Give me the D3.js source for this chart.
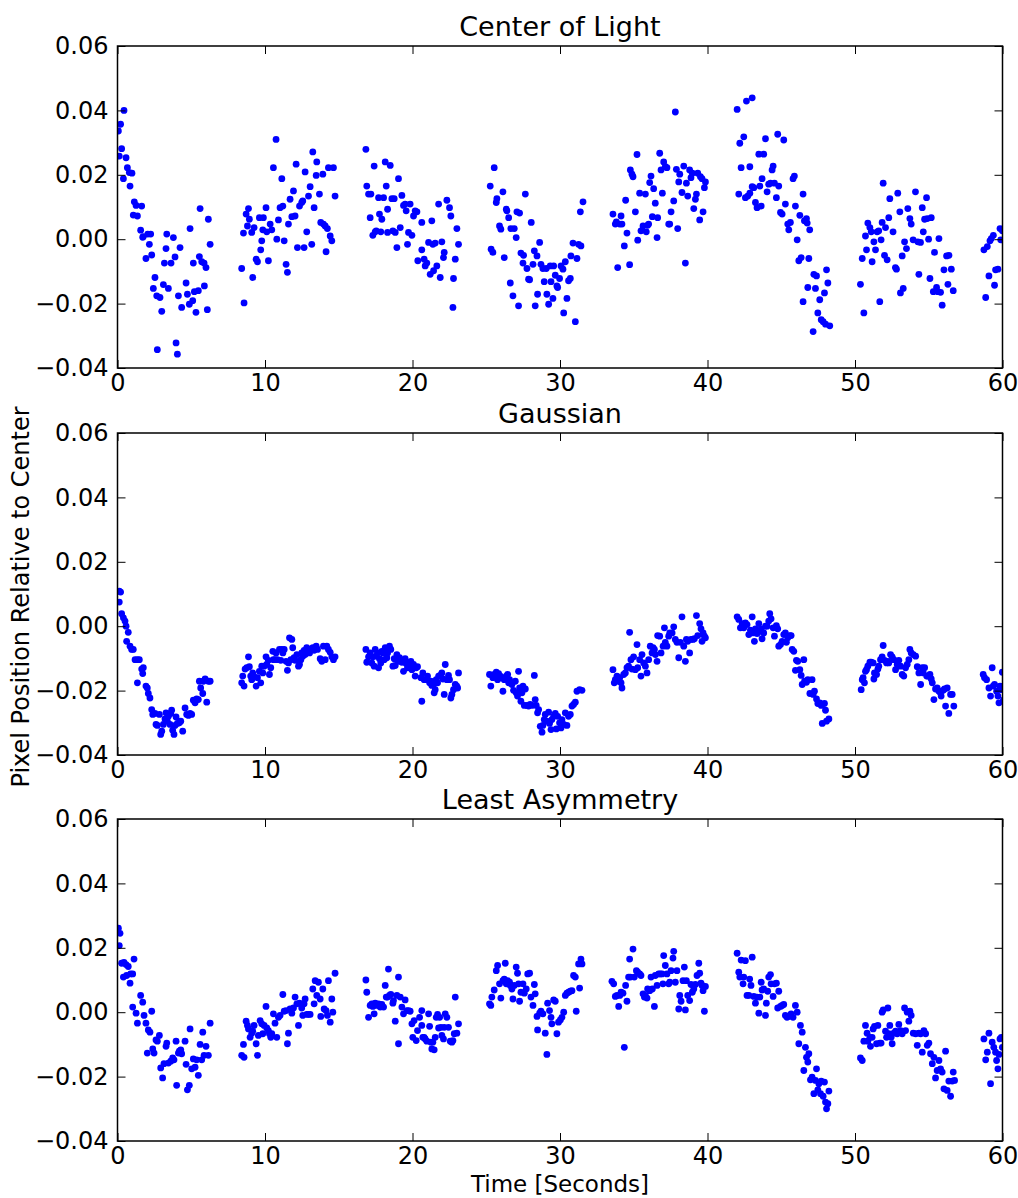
<!DOCTYPE html>
<html><head><meta charset="utf-8">
<script src="https://cdn.jsdelivr.net/npm/d3@7"></script>
<style>body{margin:0;background:#fff}svg{display:block}</style>
</head><body><svg id="chart" width="1018" height="1198"></svg>
<script>
const panelTitles = ["Center of Light", "Gaussian", "Least Asymmetry"];
const xTicks = [0, 10, 20, 30, 40, 50, 60];
const yTicks = [-0.04, -0.02, 0, 0.02, 0.04, 0.06];
const yTickLabels = ["\u22120.04", "\u22120.02", "0.00", "0.02", "0.04", "0.06"];
const xLabel = "Time [Seconds]";
const yLabel = "Pixel Position Relative to Center";

// [time (s), pixel offset]
const centerOfLight = [
[0.06,0.0336],[0.12,0.0258],[0.21,0.0357],[0.28,0.0281],[0.40,0.0188],[0.44,0.0400],[0.58,0.0253],[0.67,0.0222],[0.80,0.0207],[0.85,0.0165],[0.98,0.0205],[1.07,0.0075],[1.14,0.0116],[1.26,0.0105],[1.35,0.0072],[1.57,0.0028],[1.64,0.0103],[1.71,0.0006],[1.75,0.0008],[1.93,-0.0060],[2.05,0.0016],[2.16,-0.0016],[2.25,0.0016],[2.32,-0.0049],[2.43,-0.0153],[2.54,-0.0119],[2.66,-0.0176],[2.70,-0.0343],[2.88,-0.0181],[3.00,-0.0224],[3.11,-0.0141],[3.18,-0.0074],[3.29,-0.0029],[3.34,0.0016],[3.45,-0.0153],[3.63,-0.0074],[3.79,0.0005],[3.90,-0.0055],[3.97,-0.0322],[4.06,-0.0357],[4.13,-0.0176],[4.24,-0.0026],[4.35,-0.0212],[4.65,-0.0136],[4.74,-0.0171],[4.87,-0.0202],[4.92,0.0033],[5.10,-0.0191],[5.14,-0.0074],[5.21,-0.0163],[5.32,-0.0227],[5.48,-0.0160],[5.55,-0.0054],[5.60,0.0095],[5.71,-0.0070],[5.87,-0.0074],[5.89,-0.0145],[6.00,-0.0088],[6.09,-0.0219],[6.16,0.0062],[6.28,-0.0016],
[8.42,-0.0091],[8.54,0.0019],[8.58,-0.0198],[8.72,0.0078],[8.81,0.0041],[8.88,0.0095],[8.94,0.0062],[9.10,0.0021],[9.17,-0.0119],[9.26,0.0036],[9.40,-0.0062],[9.49,-0.0070],[9.62,0.0067],[9.71,-0.0033],[9.78,-0.0005],[9.85,0.0029],[9.89,0.0067],[10.07,0.0098],[10.12,0.0023],[10.23,-0.0067],[10.35,0.0047],[10.46,0.0029],[10.57,0.0222],[10.75,0.0310],[10.80,0.0000],[10.91,0.0060],[11.02,0.0098],[11.14,0.0188],[11.21,0.0103],[11.30,-0.0005],[11.43,-0.0078],[11.52,-0.0103],[11.59,0.0047],[11.70,0.0124],[11.82,0.0070],[11.93,0.0150],[12.04,0.0072],[12.11,0.0233],[12.20,-0.0026],[12.34,0.0103],[12.49,0.0114],[12.56,0.0119],[12.65,-0.0026],[12.72,0.0209],[12.83,0.0023],[12.95,0.0134],[13.06,0.0163],[13.17,-0.0016],[13.24,0.0271],[13.33,0.0098],[13.47,0.0198],[13.51,0.0240],[13.69,0.0140],[13.78,0.0052],[13.92,0.0202],[13.96,0.0047],[14.08,0.0041],[14.14,-0.0039],[14.23,0.0033],[14.30,0.0222],[14.42,0.0010],[14.53,-0.0005],[14.64,0.0222],[14.75,0.0134],
[16.84,0.0279],[16.90,0.0165],[17.02,0.0140],[17.13,0.0067],[17.18,0.0140],[17.31,0.0012],[17.40,0.0227],[17.47,0.0023],[17.54,0.0026],[17.70,0.0129],[17.76,0.0078],[17.85,0.0023],[17.92,0.0062],[18.04,0.0129],[18.15,0.0240],[18.22,0.0165],[18.31,0.0093],[18.31,0.0021],[18.49,0.0229],[18.60,0.0126],[18.67,0.0026],[18.76,0.0126],[18.83,0.0021],[18.94,-0.0026],[19.05,0.0188],[19.17,0.0036],[19.28,0.0136],[19.39,0.0105],[19.50,0.0109],[19.57,0.0088],[19.66,-0.0016],[19.73,0.0021],[19.84,0.0109],[19.96,0.0012],[20.07,0.0072],[20.18,0.0088],[20.30,0.0085],[20.36,-0.0067],[20.63,0.0052],[20.63,-0.0033],[20.79,-0.0062],[20.86,-0.0083],[20.97,-0.0074],[21.09,-0.0010],[21.20,-0.0109],[21.31,0.0057],[21.38,-0.0016],[21.43,-0.0098],[21.54,-0.0012],[21.65,-0.0083],[21.77,0.0109],[21.88,-0.0119],[21.99,-0.0008],[22.10,-0.0057],[22.15,-0.0041],[22.33,0.0121],[22.51,0.0098],[22.60,0.0072],[22.74,-0.0212],[22.78,-0.0122],[22.90,-0.0062],[23.01,0.0033],[23.12,-0.0016],
[25.27,0.0165],[25.33,-0.0031],[25.45,-0.0041],[25.54,0.0222],[25.68,0.0114],[25.72,0.0126],[25.90,0.0041],[25.99,0.0031],[26.13,0.0147],[26.22,-0.0057],[26.36,0.0093],[26.40,0.0088],[26.52,0.0067],[26.63,-0.0136],[26.67,0.0033],[26.81,-0.0176],[26.90,0.0033],[27.03,0.0005],[27.08,0.0085],[27.19,-0.0207],[27.26,0.0081],[27.35,-0.0043],[27.49,-0.0074],[27.53,-0.0050],[27.65,0.0140],[27.76,-0.0091],[27.87,-0.0124],[27.94,-0.0126],[28.05,0.0052],[28.17,-0.0078],[28.26,-0.0036],[28.32,-0.0207],[28.44,-0.0052],[28.48,-0.0171],[28.62,-0.0010],[28.71,-0.0078],[28.84,-0.0091],[28.93,-0.0132],[29.07,-0.0091],[29.11,-0.0171],[29.23,-0.0202],[29.34,-0.0083],[29.39,-0.0132],[29.52,-0.0184],[29.57,-0.0083],[29.68,-0.0112],[29.79,-0.0145],[29.84,-0.0150],[29.97,-0.0122],[30.07,-0.0083],[30.20,-0.0093],[30.25,-0.0229],[30.36,-0.0070],[30.47,-0.0184],[30.58,-0.0129],[30.70,-0.0122],[30.74,-0.0052],[30.88,-0.0012],[31.04,-0.0256],[31.15,-0.0060],[31.26,-0.0016],[31.38,0.0085],[31.42,-0.0021],[31.56,0.0116],
[33.59,0.0078],[33.75,0.0047],[33.82,0.0054],[33.91,-0.0088],[34.05,0.0047],[34.14,0.0072],[34.20,0.0047],[34.36,-0.0021],[34.45,0.0121],[34.54,0.0019],[34.72,-0.0079],[34.77,0.0215],[34.88,0.0202],[34.95,0.0194],[35.11,0.0085],[35.22,0.0263],[35.27,-0.0003],[35.40,0.0143],[35.49,0.0026],[35.63,0.0041],[35.79,0.0140],[35.85,0.0023],[35.94,0.0043],[36.01,0.0047],[36.08,0.0176],[36.17,0.0196],[36.26,0.0070],[36.35,0.0157],[36.46,0.0112],[36.58,0.0005],[36.62,0.0067],[36.76,0.0267],[36.85,0.0215],[36.94,0.0143],[37.03,0.0240],[37.14,0.0225],[37.25,0.0222],[37.37,0.0047],[37.44,0.0047],[37.53,0.0085],[37.71,0.0119],[37.82,0.0395],[37.89,0.0217],[37.98,0.0033],[38.05,0.0178],[38.12,0.0202],[38.27,0.0145],[38.39,0.0227],[38.50,-0.0074],[38.57,0.0174],[38.66,0.0134],[38.79,0.0215],[38.88,0.0191],[38.97,0.0205],[39.07,0.0095],[39.18,0.0124],[39.25,0.0140],[39.34,0.0205],[39.47,0.0060],[39.52,0.0194],[39.63,0.0188],[39.70,0.0085],[39.79,0.0160],[39.86,0.0178],
[42.01,0.0403],[42.12,0.0140],[42.19,0.0298],[42.28,0.0222],[42.46,0.0318],[42.57,0.0129],[42.64,0.0429],[42.73,0.0134],[42.87,0.0225],[42.87,0.0143],[43.03,0.0439],[43.03,0.0163],[43.14,0.0160],[43.25,0.0114],[43.36,0.0098],[43.48,0.0264],[43.55,0.0165],[43.64,0.0103],[43.70,0.0188],[43.81,0.0264],[43.93,0.0312],[44.04,0.0147],[44.15,0.0171],[44.27,0.0174],[44.38,0.0215],[44.45,0.0227],[44.54,0.0174],[44.67,0.0129],[44.76,0.0326],[44.83,0.0165],[44.95,0.0083],[45.06,0.0078],[45.17,0.0308],[45.28,0.0109],[45.44,0.0047],[45.51,0.0029],[45.62,0.0052],[45.80,0.0188],[45.89,0.0196],[45.96,0.0103],[46.08,-0.0002],[46.19,-0.0067],[46.26,0.0074],[46.35,-0.0057],[46.48,0.0140],[46.48,-0.0194],[46.57,0.0057],[46.71,0.0064],[46.76,0.0050],[46.80,-0.0150],[46.87,-0.0060],[46.93,0.0029],[47.16,-0.0287],[47.21,-0.0109],[47.32,-0.0153],[47.39,-0.0114],[47.48,-0.0229],[47.61,-0.0188],[47.71,-0.0250],[47.84,-0.0256],[47.93,-0.0167],[48.00,-0.0264],[48.07,-0.0095],[48.16,-0.0136],[48.29,-0.0269],
[50.37,-0.0140],[50.49,-0.0060],[50.60,-0.0229],[50.71,0.0010],[50.78,-0.0033],[50.87,0.0050],[51.01,0.0036],[51.10,0.0023],[51.16,-0.0070],[51.28,-0.0008],[51.39,-0.0033],[51.50,0.0023],[51.61,0.0026],[51.68,-0.0194],[51.77,-0.0002],[51.84,0.0052],[51.91,0.0174],[52.00,-0.0050],[52.07,0.0036],[52.18,-0.0064],[52.29,0.0067],[52.36,0.0126],[52.58,0.0023],[52.74,-0.0088],[52.81,-0.0093],[52.90,0.0143],[53.04,0.0085],[53.08,-0.0167],[53.20,-0.0052],[53.27,-0.0153],[53.36,-0.0008],[53.49,-0.0029],[53.58,0.0095],[53.72,0.0064],[53.81,0.0047],[53.94,-0.0002],[54.10,0.0147],[54.26,-0.0008],[54.33,-0.0109],[54.44,-0.0010],[54.56,0.0098],[54.63,0.0023],[54.72,0.0062],[54.85,0.0129],[54.90,0.0064],[54.99,0.0000],[55.08,-0.0122],[55.17,0.0067],[55.31,-0.0163],[55.39,-0.0041],[55.53,-0.0150],[55.62,-0.0163],[55.69,0.0002],[55.80,-0.0165],[55.91,-0.0205],[56.03,-0.0095],[56.21,-0.0052],[56.30,-0.0140],[56.37,-0.0050],[56.53,-0.0093],[56.66,-0.0160],
[58.74,-0.0033],[58.86,-0.0181],[58.97,-0.0023],[59.08,-0.0114],[59.15,-0.0005],[59.24,0.0002],[59.38,0.0012],[59.46,-0.0143],[59.53,-0.0095],[59.69,-0.0093],[59.83,0.0033],[59.88,-0.0002],[59.99,0.0026]
];

const gaussian = [
[0.12,0.0109],[0.12,0.0075],[0.21,0.0106],[0.28,0.0039],[0.40,0.0026],[0.51,0.0016],[0.58,0.0000],[0.62,-0.0047],[0.73,-0.0019],[0.85,-0.0062],[0.96,-0.0072],[1.07,-0.0072],[1.19,-0.0104],[1.35,-0.0104],[1.35,-0.0176],[1.48,-0.0104],[1.64,-0.0133],[1.71,-0.0147],[1.75,-0.0129],[1.93,-0.0186],[2.02,-0.0192],[2.09,-0.0209],[2.20,-0.0223],[2.32,-0.0259],[2.39,-0.0274],[2.54,-0.0271],[2.61,-0.0305],[2.70,-0.0308],[2.84,-0.0274],[2.93,-0.0336],[3.00,-0.0326],[3.11,-0.0305],[3.22,-0.0288],[3.29,-0.0269],[3.38,-0.0295],[3.45,-0.0280],[3.56,-0.0305],[3.61,-0.0271],[3.67,-0.0261],[3.74,-0.0323],[3.83,-0.0336],[3.90,-0.0308],[3.97,-0.0282],[4.06,-0.0302],[4.19,-0.0300],[4.29,-0.0295],[4.42,-0.0326],[4.58,-0.0254],[4.69,-0.0274],[4.81,-0.0277],[4.92,-0.0271],[5.03,-0.0274],[5.14,-0.0230],[5.26,-0.0238],[5.37,-0.0226],[5.48,-0.0228],[5.55,-0.0171],[5.64,-0.0192],[5.78,-0.0209],[5.82,-0.0171],[5.94,-0.0164],[6.05,-0.0236],[6.16,-0.0171],[6.28,-0.0171],
[8.42,-0.0176],[8.49,-0.0155],[8.58,-0.0186],[8.65,-0.0133],[8.76,-0.0129],[8.88,-0.0095],[8.94,-0.0126],[9.03,-0.0155],[9.10,-0.0166],[9.17,-0.0145],[9.26,-0.0157],[9.40,-0.0186],[9.49,-0.0160],[9.62,-0.0140],[9.71,-0.0176],[9.78,-0.0124],[9.85,-0.0145],[9.94,-0.0124],[10.07,-0.0095],[10.12,-0.0119],[10.23,-0.0106],[10.30,-0.0150],[10.39,-0.0129],[10.53,-0.0078],[10.57,-0.0104],[10.68,-0.0104],[10.75,-0.0083],[10.84,-0.0104],[10.98,-0.0072],[11.07,-0.0106],[11.14,-0.0072],[11.21,-0.0083],[11.30,-0.0072],[11.43,-0.0109],[11.52,-0.0137],[11.59,-0.0114],[11.66,-0.0036],[11.75,-0.0104],[11.82,-0.0041],[11.88,-0.0067],[11.97,-0.0098],[12.04,-0.0106],[12.16,-0.0088],[12.27,-0.0124],[12.34,-0.0119],[12.43,-0.0104],[12.49,-0.0083],[12.56,-0.0093],[12.65,-0.0075],[12.72,-0.0088],[12.83,-0.0067],[12.95,-0.0072],[13.02,-0.0083],[13.11,-0.0072],[13.24,-0.0067],[13.33,-0.0075],[13.47,-0.0062],[13.56,-0.0072],[13.74,-0.0101],[13.85,-0.0109],[13.96,-0.0062],[14.08,-0.0104],[14.19,-0.0062],[14.30,-0.0072],[14.42,-0.0081],[14.53,-0.0095],[14.64,-0.0104],[14.75,-0.0095],
[16.84,-0.0072],[16.90,-0.0112],[17.02,-0.0095],[17.13,-0.0083],[17.24,-0.0114],[17.31,-0.0095],[17.40,-0.0124],[17.47,-0.0072],[17.54,-0.0093],[17.63,-0.0083],[17.70,-0.0129],[17.76,-0.0101],[17.85,-0.0114],[17.92,-0.0078],[17.99,-0.0083],[18.08,-0.0104],[18.15,-0.0067],[18.26,-0.0098],[18.31,-0.0083],[18.44,-0.0062],[18.53,-0.0072],[18.67,-0.0124],[18.76,-0.0101],[18.83,-0.0122],[18.94,-0.0088],[19.05,-0.0109],[19.12,-0.0098],[19.28,-0.0112],[19.39,-0.0140],[19.50,-0.0101],[19.57,-0.0116],[19.66,-0.0129],[19.80,-0.0124],[19.89,-0.0109],[19.96,-0.0135],[20.07,-0.0119],[20.18,-0.0155],[20.25,-0.0129],[20.34,-0.0126],[20.57,-0.0160],[20.63,-0.0233],[20.70,-0.0145],[20.79,-0.0166],[20.93,-0.0166],[21.02,-0.0155],[21.16,-0.0176],[21.25,-0.0171],[21.31,-0.0184],[21.43,-0.0181],[21.47,-0.0207],[21.54,-0.0197],[21.61,-0.0166],[21.70,-0.0176],[21.77,-0.0155],[21.88,-0.0153],[21.99,-0.0145],[22.06,-0.0164],[22.15,-0.0212],[22.22,-0.0119],[22.33,-0.0166],[22.44,-0.0153],[22.51,-0.0166],[22.60,-0.0223],[22.67,-0.0212],[22.78,-0.0197],[22.90,-0.0181],[23.00,-0.0186],[23.06,-0.0192],[23.12,-0.0145],
[25.22,-0.0150],[25.31,-0.0186],[25.45,-0.0160],[25.54,-0.0150],[25.68,-0.0143],[25.77,-0.0166],[25.84,-0.0147],[25.95,-0.0155],[26.06,-0.0160],[26.13,-0.0202],[26.22,-0.0166],[26.36,-0.0155],[26.45,-0.0150],[26.52,-0.0176],[26.58,-0.0166],[26.74,-0.0181],[26.85,-0.0199],[26.97,-0.0171],[27.03,-0.0207],[27.12,-0.0217],[27.19,-0.0140],[27.26,-0.0192],[27.35,-0.0233],[27.42,-0.0207],[27.49,-0.0186],[27.58,-0.0246],[27.65,-0.0195],[27.76,-0.0246],[27.87,-0.0248],[27.98,-0.0243],[28.10,-0.0246],[28.26,-0.0153],[28.32,-0.0228],[28.39,-0.0246],[28.48,-0.0269],[28.55,-0.0259],[28.66,-0.0311],[28.78,-0.0329],[28.84,-0.0308],[28.93,-0.0290],[29.00,-0.0274],[29.11,-0.0295],[29.23,-0.0267],[29.29,-0.0302],[29.39,-0.0321],[29.45,-0.0290],[29.57,-0.0280],[29.68,-0.0271],[29.75,-0.0319],[29.84,-0.0280],[29.97,-0.0300],[30.07,-0.0316],[30.13,-0.0290],[30.25,-0.0305],[30.36,-0.0269],[30.47,-0.0308],[30.58,-0.0280],[30.70,-0.0274],[30.81,-0.0248],[30.92,-0.0243],[31.04,-0.0236],[31.15,-0.0202],[31.33,-0.0197],[31.49,-0.0199],
[33.59,-0.0135],[33.68,-0.0176],[33.75,-0.0166],[33.86,-0.0155],[33.98,-0.0171],[34.05,-0.0160],[34.14,-0.0176],[34.20,-0.0192],[34.32,-0.0150],[34.43,-0.0145],[34.54,-0.0129],[34.65,-0.0124],[34.72,-0.0019],[34.81,-0.0104],[34.88,-0.0133],[34.99,-0.0095],[35.11,-0.0135],[35.22,-0.0057],[35.27,-0.0129],[35.40,-0.0104],[35.49,-0.0155],[35.56,-0.0088],[35.67,-0.0114],[35.79,-0.0124],[35.90,-0.0145],[36.01,-0.0104],[36.12,-0.0062],[36.24,-0.0083],[36.31,-0.0067],[36.40,-0.0072],[36.47,-0.0088],[36.58,-0.0109],[36.62,-0.0029],[36.76,-0.0031],[36.85,-0.0083],[36.99,-0.0062],[37.08,-0.0005],[37.14,-0.0050],[37.25,-0.0062],[37.37,-0.0031],[37.44,-0.0021],[37.60,-0.0021],[37.71,-0.0002],[37.82,-0.0041],[37.93,-0.0050],[38.05,-0.0098],[38.16,-0.0050],[38.27,0.0029],[38.39,-0.0062],[38.50,-0.0109],[38.57,-0.0041],[38.66,-0.0047],[38.79,-0.0083],[38.88,-0.0041],[39.02,-0.0041],[39.11,-0.0039],[39.25,0.0033],[39.34,-0.0029],[39.47,0.0008],[39.56,-0.0008],[39.63,-0.0047],[39.70,-0.0021],[39.79,-0.0031],[39.86,-0.0036],
[42.01,0.0029],[42.12,0.0021],[42.23,-0.0005],[42.35,0.0008],[42.46,-0.0005],[42.57,0.0010],[42.68,0.0005],[42.80,-0.0026],[42.91,-0.0012],[43.03,0.0029],[43.09,-0.0021],[43.18,-0.0047],[43.25,-0.0008],[43.36,-0.0023],[43.48,0.0008],[43.55,-0.0016],[43.64,-0.0008],[43.70,-0.0039],[43.81,-0.0021],[43.93,0.0000],[44.04,0.0000],[44.15,0.0016],[44.22,0.0039],[44.31,0.0023],[44.45,-0.0005],[44.54,-0.0031],[44.67,0.0002],[44.76,-0.0008],[44.83,-0.0062],[44.95,-0.0057],[45.06,-0.0047],[45.17,-0.0026],[45.28,-0.0021],[45.35,-0.0050],[45.44,-0.0036],[45.58,-0.0029],[45.67,-0.0029],[45.74,-0.0072],[45.85,-0.0078],[45.96,-0.0137],[46.03,-0.0106],[46.12,-0.0109],[46.26,-0.0135],[46.35,-0.0153],[46.42,-0.0181],[46.53,-0.0104],[46.58,-0.0171],[46.71,-0.0174],[46.80,-0.0166],[46.94,-0.0209],[47.09,-0.0166],[47.16,-0.0212],[47.25,-0.0202],[47.39,-0.0226],[47.48,-0.0240],[47.61,-0.0238],[47.71,-0.0246],[47.78,-0.0302],[47.93,-0.0240],[48.00,-0.0261],[48.07,-0.0295],[48.23,-0.0288],
[50.42,-0.0197],[50.49,-0.0166],[50.55,-0.0160],[50.64,-0.0176],[50.71,-0.0140],[50.78,-0.0135],[50.87,-0.0124],[51.01,-0.0112],[51.10,-0.0112],[51.23,-0.0114],[51.28,-0.0164],[51.32,-0.0145],[51.46,-0.0150],[51.55,-0.0133],[51.61,-0.0124],[51.73,-0.0104],[51.84,-0.0095],[51.91,-0.0060],[52.00,-0.0106],[52.14,-0.0114],[52.23,-0.0109],[52.29,-0.0114],[52.41,-0.0088],[52.52,-0.0095],[52.63,-0.0104],[52.75,-0.0135],[52.86,-0.0119],[52.97,-0.0106],[53.09,-0.0124],[53.20,-0.0150],[53.31,-0.0155],[53.43,-0.0129],[53.54,-0.0119],[53.65,-0.0104],[53.72,-0.0072],[53.81,-0.0083],[53.95,-0.0088],[54.11,-0.0093],[54.22,-0.0126],[54.33,-0.0145],[54.45,-0.0181],[54.56,-0.0129],[54.63,-0.0145],[54.72,-0.0129],[54.86,-0.0155],[54.94,-0.0155],[55.08,-0.0150],[55.17,-0.0164],[55.24,-0.0176],[55.35,-0.0228],[55.46,-0.0195],[55.57,-0.0192],[55.69,-0.0202],[55.80,-0.0207],[55.84,-0.0217],[55.98,-0.0199],[56.07,-0.0195],[56.14,-0.0248],[56.25,-0.0192],[56.36,-0.0271],[56.48,-0.0212],[56.59,-0.0212],[56.70,-0.0248],
[58.69,-0.0150],[58.78,-0.0160],[58.92,-0.0166],[59.08,-0.0192],[59.19,-0.0217],[59.30,-0.0129],[59.37,-0.0186],[59.46,-0.0181],[59.60,-0.0202],[59.69,-0.0217],[59.76,-0.0238],[59.83,-0.0186],[59.92,-0.0197],[59.99,-0.0143],[60.06,-0.0230]
];

const leastAsymmetry = [
[0.06,0.0261],[0.12,0.0207],[0.17,0.0245],[0.28,0.0152],[0.40,0.0109],[0.44,0.0155],[0.58,0.0148],[0.62,0.0114],[0.73,0.0142],[0.85,0.0090],[0.89,0.0119],[1.03,0.0119],[1.03,0.0016],[1.12,0.0165],[1.26,-0.0003],[1.35,-0.0034],[1.57,0.0052],[1.71,0.0031],[1.80,-0.0010],[1.93,-0.0034],[2.02,-0.0127],[2.09,-0.0055],[2.20,-0.0062],[2.32,0.0003],[2.39,-0.0114],[2.48,-0.0127],[2.61,-0.0086],[2.70,-0.0090],[2.84,-0.0072],[2.93,-0.0173],[3.06,-0.0204],[3.15,-0.0160],[3.29,-0.0106],[3.34,-0.0096],[3.45,-0.0158],[3.61,-0.0152],[3.74,-0.0142],[3.83,-0.0148],[3.97,-0.0090],[4.01,-0.0227],[4.13,-0.0127],[4.19,-0.0121],[4.29,-0.0117],[4.35,-0.0129],[4.58,-0.0090],[4.65,-0.0162],[4.74,-0.0241],[4.87,-0.0227],[4.92,-0.0052],[5.03,-0.0176],[5.14,-0.0145],[5.26,-0.0171],[5.37,-0.0148],[5.48,-0.0196],[5.60,-0.0100],[5.71,-0.0148],[5.78,-0.0062],[5.87,-0.0134],[6.00,-0.0106],[6.16,-0.0134],[6.28,-0.0034],
[8.42,-0.0134],[8.54,-0.0100],[8.58,-0.0140],[8.72,-0.0028],[8.81,-0.0041],[8.88,-0.0052],[8.99,-0.0078],[9.10,-0.0065],[9.17,-0.0059],[9.26,-0.0041],[9.40,-0.0098],[9.49,-0.0134],[9.55,-0.0072],[9.67,-0.0026],[9.78,-0.0036],[9.85,-0.0067],[9.94,-0.0041],[10.07,0.0018],[10.12,-0.0049],[10.23,-0.0057],[10.30,-0.0067],[10.39,-0.0078],[10.46,-0.0067],[10.57,-0.0005],[10.68,-0.0034],[10.80,-0.0078],[10.91,-0.0016],[11.02,-0.0010],[11.21,0.0055],[11.30,0.0003],[11.43,0.0005],[11.52,-0.0098],[11.59,-0.0065],[11.70,0.0010],[11.82,-0.0003],[11.93,0.0013],[12.04,0.0047],[12.16,0.0026],[12.27,-0.0041],[12.34,0.0028],[12.49,0.0013],[12.56,-0.0010],[12.65,0.0026],[12.72,0.0041],[12.83,-0.0007],[12.95,-0.0007],[13.06,-0.0007],[13.24,0.0072],[13.33,0.0026],[13.40,0.0098],[13.51,0.0052],[13.62,0.0093],[13.74,0.0041],[13.78,-0.0013],[13.92,0.0072],[14.01,0.0010],[14.14,0.0005],[14.23,-0.0010],[14.30,0.0098],[14.42,-0.0031],[14.53,0.0041],[14.60,0.0000],[14.75,0.0121],
[16.84,0.0100],[16.90,0.0062],[17.02,-0.0016],[17.13,0.0021],[17.24,0.0026],[17.31,0.0018],[17.40,-0.0005],[17.47,0.0028],[17.58,0.0021],[17.70,0.0026],[17.81,0.0016],[17.92,0.0024],[18.04,0.0016],[18.15,0.0083],[18.22,0.0047],[18.31,0.0047],[18.37,0.0134],[18.44,0.0052],[18.53,0.0055],[18.67,0.0028],[18.71,0.0036],[18.83,-0.0028],[18.94,0.0052],[19.05,-0.0098],[19.05,0.0109],[19.17,0.0047],[19.28,0.0016],[19.39,-0.0005],[19.50,0.0038],[19.62,0.0005],[19.73,0.0005],[19.84,0.0003],[19.96,-0.0036],[20.02,-0.0078],[20.11,-0.0026],[20.25,-0.0088],[20.34,-0.0057],[20.48,-0.0016],[20.63,0.0005],[20.63,-0.0041],[20.70,-0.0078],[20.79,-0.0078],[20.86,-0.0083],[20.97,-0.0090],[21.09,-0.0005],[21.16,-0.0044],[21.25,-0.0093],[21.31,-0.0114],[21.38,-0.0093],[21.47,-0.0117],[21.54,-0.0078],[21.61,-0.0016],[21.70,-0.0007],[21.77,-0.0049],[21.84,-0.0016],[21.93,-0.0047],[21.99,-0.0072],[22.10,-0.0083],[22.15,-0.0047],[22.22,-0.0005],[22.33,-0.0016],[22.44,-0.0047],[22.56,-0.0090],[22.67,-0.0093],[22.74,-0.0088],[22.83,-0.0067],[22.90,0.0047],[23.01,-0.0065],[23.12,-0.0036],
[25.22,0.0026],[25.31,0.0021],[25.38,0.0047],[25.54,0.0069],[25.68,0.0129],[25.77,0.0145],[25.90,0.0088],[25.99,0.0044],[26.13,0.0098],[26.22,0.0103],[26.29,0.0152],[26.36,0.0088],[26.45,0.0098],[26.58,0.0093],[26.63,0.0083],[26.74,0.0072],[26.81,0.0041],[26.90,0.0083],[27.03,0.0140],[27.12,0.0121],[27.19,0.0088],[27.26,0.0034],[27.35,0.0062],[27.49,0.0088],[27.58,0.0059],[27.71,0.0072],[27.81,0.0119],[27.94,0.0121],[28.03,0.0047],[28.17,0.0021],[28.26,0.0086],[28.32,0.0057],[28.44,-0.0013],[28.48,-0.0055],[28.62,-0.0003],[28.71,0.0003],[28.84,-0.0005],[29.00,-0.0065],[29.11,-0.0131],[29.16,0.0028],[29.29,0.0005],[29.39,-0.0016],[29.45,-0.0036],[29.57,0.0038],[29.68,0.0034],[29.79,-0.0067],[29.90,-0.0031],[30.02,-0.0024],[30.13,-0.0016],[30.25,0.0000],[30.36,0.0052],[30.47,0.0059],[30.58,0.0062],[30.70,0.0065],[30.81,0.0067],[30.92,0.0114],[31.04,0.0109],[31.10,0.0003],[31.26,0.0150],[31.33,0.0075],[31.42,0.0165],[31.49,0.0150],
[33.52,0.0096],[33.64,0.0088],[33.75,0.0049],[33.86,0.0052],[33.98,0.0018],[34.05,0.0052],[34.14,0.0062],[34.27,0.0059],[34.36,-0.0109],[34.45,0.0083],[34.54,0.0034],[34.65,0.0109],[34.72,0.0165],[34.77,0.0109],[34.95,0.0196],[35.04,0.0109],[35.18,0.0129],[35.27,0.0124],[35.40,0.0119],[35.49,0.0114],[35.63,0.0057],[35.72,0.0047],[35.79,0.0052],[35.90,0.0044],[35.94,0.0072],[36.08,0.0067],[36.17,0.0109],[36.26,0.0072],[36.40,0.0018],[36.46,0.0114],[36.58,0.0083],[36.69,0.0119],[36.80,0.0119],[36.92,0.0119],[36.98,0.0088],[37.03,0.0176],[37.14,0.0145],[37.25,0.0119],[37.37,0.0088],[37.44,0.0093],[37.53,0.0129],[37.66,0.0168],[37.71,0.0189],[37.82,0.0093],[37.93,0.0129],[38.05,0.0010],[38.12,0.0052],[38.21,0.0034],[38.34,0.0098],[38.43,0.0140],[38.50,0.0007],[38.57,0.0098],[38.66,0.0052],[38.79,0.0036],[38.88,0.0086],[38.97,0.0062],[39.07,0.0072],[39.18,0.0086],[39.29,0.0114],[39.41,0.0152],[39.47,0.0121],[39.56,0.0090],[39.63,0.0083],[39.70,0.0067],[39.79,0.0003],[39.86,0.0080],
[42.01,0.0183],[42.12,0.0124],[42.19,0.0109],[42.28,0.0162],[42.41,0.0088],[42.46,0.0109],[42.57,0.0160],[42.68,0.0052],[42.80,0.0052],[42.86,0.0103],[42.95,0.0083],[43.03,0.0171],[43.14,0.0049],[43.25,0.0028],[43.36,0.0047],[43.48,-0.0003],[43.55,0.0047],[43.64,0.0093],[43.70,0.0069],[43.81,0.0072],[43.93,-0.0010],[43.99,0.0028],[44.08,0.0065],[44.15,0.0109],[44.27,0.0117],[44.31,0.0088],[44.45,0.0049],[44.54,0.0088],[44.67,0.0090],[44.76,0.0013],[44.83,0.0065],[44.95,0.0018],[45.06,0.0021],[45.17,0.0024],[45.28,-0.0010],[45.39,-0.0016],[45.51,-0.0013],[45.67,-0.0005],[45.80,-0.0016],[45.96,0.0021],[46.08,0.0000],[46.19,-0.0098],[46.30,-0.0041],[46.42,-0.0062],[46.53,-0.0181],[46.64,-0.0109],[46.71,-0.0140],[46.80,-0.0155],[46.87,-0.0129],[46.98,-0.0210],[47.09,-0.0202],[47.21,-0.0253],[47.32,-0.0212],[47.39,-0.0176],[47.48,-0.0241],[47.55,-0.0222],[47.66,-0.0253],[47.71,-0.0214],[47.84,-0.0261],[47.93,-0.0217],[48.00,-0.0279],[48.07,-0.0300],[48.16,-0.0284],[48.23,-0.0245],
[50.37,-0.0142],[50.49,-0.0150],[50.60,-0.0090],[50.71,-0.0041],[50.82,-0.0065],[50.87,-0.0090],[51.01,-0.0078],[51.05,-0.0106],[51.16,-0.0078],[51.23,-0.0052],[51.32,-0.0044],[51.46,-0.0098],[51.55,-0.0041],[51.68,-0.0096],[51.77,-0.0096],[51.84,0.0000],[51.91,0.0007],[52.07,-0.0059],[52.14,-0.0078],[52.23,0.0013],[52.29,-0.0067],[52.36,-0.0041],[52.45,-0.0078],[52.52,-0.0098],[52.63,-0.0065],[52.75,-0.0059],[52.86,-0.0067],[52.97,-0.0038],[53.09,-0.0057],[53.20,-0.0067],[53.36,0.0013],[53.43,-0.0057],[53.54,0.0000],[53.65,-0.0028],[53.72,0.0003],[53.81,-0.0010],[53.95,-0.0065],[54.11,-0.0067],[54.22,-0.0103],[54.33,-0.0065],[54.45,-0.0067],[54.56,-0.0124],[54.67,-0.0057],[54.79,-0.0067],[54.90,-0.0103],[55.01,-0.0096],[55.12,-0.0129],[55.24,-0.0160],[55.35,-0.0140],[55.46,-0.0204],[55.57,-0.0181],[55.69,-0.0150],[55.80,-0.0176],[55.91,-0.0186],[56.03,-0.0238],[56.14,-0.0121],[56.25,-0.0243],[56.36,-0.0214],[56.48,-0.0261],[56.59,-0.0214],[56.66,-0.0186],[56.75,-0.0212],
[58.74,-0.0083],[58.86,-0.0148],[58.97,-0.0124],[59.08,-0.0065],[59.19,-0.0222],[59.30,-0.0093],[59.41,-0.0109],[59.53,-0.0124],[59.60,-0.0150],[59.69,-0.0176],[59.76,-0.0131],[59.83,-0.0083],[59.92,-0.0078],[59.99,-0.0109]
];

const datasets = [centerOfLight, gaussian, leastAsymmetry];

const svg = d3.select("#chart");
const FONT = "'DejaVu Sans', 'Liberation Sans', sans-serif";
const plotLeft = 117.5, plotRight = 1002.5;
const panelTops = [46, 433, 819];
const panelH = 322;
const tickLen = 8;

const x = d3.scaleLinear().domain([0, 60]).range([plotLeft, plotRight]);

svg.append("rect").attr("width", 1018).attr("height", 1198).attr("fill", "#fff");

function styleAxis(g, showText) {
  g.select(".domain").remove();
  g.selectAll(".tick line").attr("stroke", "#000").attr("stroke-width", 1);
  g.selectAll(".tick text")
    .attr("fill", "#000")
    .style("font-family", FONT)
    .style("font-size", "24px")
    .style("display", showText ? null : "none");
}

panelTops.forEach((top, i) => {
  const y = d3.scaleLinear().domain([-0.04, 0.06]).range([top + panelH, top]);
  const clipId = "clip" + i;
  svg.append("clipPath").attr("id", clipId)
    .append("rect").attr("x", plotLeft).attr("y", top)
    .attr("width", plotRight - plotLeft).attr("height", panelH);

  svg.append("g").attr("clip-path", `url(#${clipId})`)
    .selectAll("circle").data(datasets[i]).join("circle")
    .attr("cx", d => x(d[0])).attr("cy", d => y(d[1]))
    .attr("r", 3.4).attr("fill", "#0000ff");

  const fmtY = v => yTickLabels[yTicks.findIndex(t => Math.abs(t - v) < 1e-9)];

  svg.append("g").attr("transform", `translate(0,${top + panelH})`)
    .call(d3.axisBottom(x).tickValues(xTicks).tickFormat(d3.format("d"))
      .tickSize(-tickLen).tickSizeOuter(0).tickPadding(6))
    .call(g => styleAxis(g, true));
  svg.append("g").attr("transform", `translate(0,${top})`)
    .call(d3.axisTop(x).tickValues(xTicks).tickSize(-tickLen).tickSizeOuter(0))
    .call(g => styleAxis(g, false));
  svg.append("g").attr("transform", `translate(${plotLeft},0)`)
    .call(d3.axisLeft(y).tickValues(yTicks).tickFormat(fmtY)
      .tickSize(-tickLen).tickSizeOuter(0).tickPadding(9))
    .call(g => styleAxis(g, true));
  svg.append("g").attr("transform", `translate(${plotRight},0)`)
    .call(d3.axisRight(y).tickValues(yTicks).tickSize(-tickLen).tickSizeOuter(0))
    .call(g => styleAxis(g, false));

  svg.append("rect").attr("x", plotLeft).attr("y", top)
    .attr("width", plotRight - plotLeft).attr("height", panelH)
    .attr("fill", "none").attr("stroke", "#000").attr("stroke-width", 1.5);

  svg.append("text").attr("x", (plotLeft + plotRight) / 2).attr("y", top - 10)
    .attr("text-anchor", "middle").style("font-family", FONT).style("font-size", "27px")
    .attr("fill", "#000").text(panelTitles[i]);
});

svg.append("text").attr("x", (plotLeft + plotRight) / 2).attr("y", 1192)
  .attr("text-anchor", "middle").style("font-family", FONT).style("font-size", "23px")
  .attr("fill", "#000").text(xLabel);

svg.append("text").attr("transform", "translate(29,597) rotate(-90)")
  .attr("text-anchor", "middle").style("font-family", FONT).style("font-size", "24px")
  .attr("fill", "#000").text(yLabel);
</script>
</body></html>
